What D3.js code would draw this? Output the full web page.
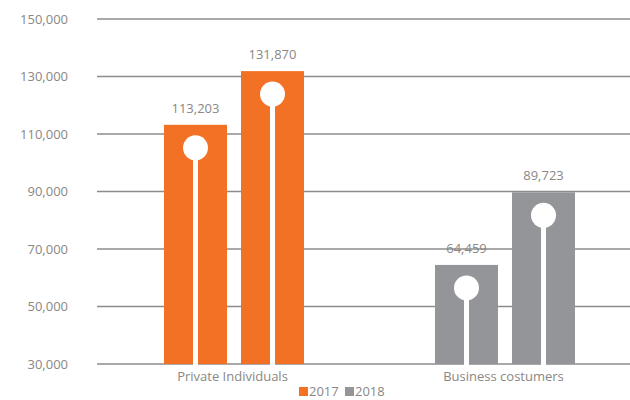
<!DOCTYPE html>
<html>
<head>
<meta charset="utf-8">
<script src="https://cdn.jsdelivr.net/npm/d3@7"></script>
<style>
  body { margin: 0; background: #fff; }
  text { font-family: "Open Sans", sans-serif; fill: #8a8784; }
</style>
</head>
<body>
<div id="chart"></div>
<script>
// data
var categories = ["Private Individuals", "Business costumers"];
var years = ["2017", "2018"];
var values2017 = [113203, 64459];
var values2018 = [131870, 89723];
var yTicks = [30000, 50000, 70000, 90000, 110000, 130000, 150000];
var catColors = ["#f37125", "#939598"];

var svgWidth = 630, svgHeight = 400;
var margin = { top: 19, left: 97, bottom: 36 };

var svg = d3.select("#chart").append("svg")
  .attr("width", svgWidth)
  .attr("height", svgHeight);

var y = d3.scaleLinear()
  .domain([30000, 150000])
  .range([svgHeight - margin.bottom, margin.top]);

var x0 = d3.scaleBand()
  .domain(categories)
  .range([margin.left, 639]);

var x1 = d3.scaleBand()
  .domain(years)
  .range([67, 207])
  .paddingInner(0.182);

// gridlines
svg.append("g").selectAll("line")
  .data(yTicks)
  .enter().append("line")
  .attr("x1", margin.left)
  .attr("x2", svgWidth)
  .attr("y1", d => y(d))
  .attr("y2", d => y(d))
  .attr("stroke", "#8c8c8c")
  .attr("stroke-width", 1.5);

// y labels
var leftAxis = d3.axisLeft(y).tickValues(yTicks).tickFormat(d3.format(",")).tickSize(0).tickPadding(0);
var yAxis = svg.append("g")
  .attr("transform", "translate(68,0)")
  .call(leftAxis);
yAxis.select(".domain").remove();
yAxis.selectAll("text").style("font-size", "13px").attr("fill", "#8a8784");

var rows = categories.map(function(c, i) {
  return [
    { cat: c, year: "2017", value: values2017[i], color: catColors[i] },
    { cat: c, year: "2018", value: values2018[i], color: catColors[i] }
  ];
});
var bars = [].concat.apply([], rows);

var g = svg.append("g").selectAll("g")
  .data(bars)
  .enter().append("g")
  .attr("transform", d => `translate(${x0(d.cat) + x1(d.year)},0)`);

g.append("rect")
  .attr("x", 0)
  .attr("width", x1.bandwidth())
  .attr("y", d => y(d.value))
  .attr("height", d => y(30000) - y(d.value))
  .attr("fill", d => d.color);

// white stick + dot decoration
g.append("rect")
  .attr("x", x1.bandwidth() / 2 - 2.5)
  .attr("width", 5)
  .attr("y", d => y(d.value) + 23)
  .attr("height", d => y(30000) - y(d.value) - 23 + 1)
  .attr("fill", "#fff");

g.append("circle")
  .attr("cx", x1.bandwidth() / 2)
  .attr("cy", d => y(d.value) + 23)
  .attr("r", 12.5)
  .attr("fill", "#fff");

g.append("text")
  .attr("x", x1.bandwidth() / 2)
  .attr("y", d => y(d.value) - 12)
  .attr("text-anchor", "middle")
  .style("font-size", "13px")
  .text(d => d3.format(",")(d.value));

// category labels
svg.append("g").selectAll("text")
  .data(categories)
  .enter().append("text")
  .attr("x", d => x0(d) + x0.bandwidth() / 2)
  .attr("y", 381)
  .attr("text-anchor", "middle")
  .style("font-size", "13px")
  .text(d => d);

// legend
var legend = svg.append("g").attr("transform", "translate(299,0)");
var legendX = [0, 46];
years.forEach(function(yr, i) {
  legend.append("rect")
    .attr("x", legendX[i])
    .attr("y", 387)
    .attr("width", 9)
    .attr("height", 9)
    .attr("fill", catColors[i]);
  legend.append("text")
    .attr("x", legendX[i] + 10)
    .attr("y", 396)
    .style("font-size", "13px")
    .text(yr);
});
</script>
</body>
</html>
